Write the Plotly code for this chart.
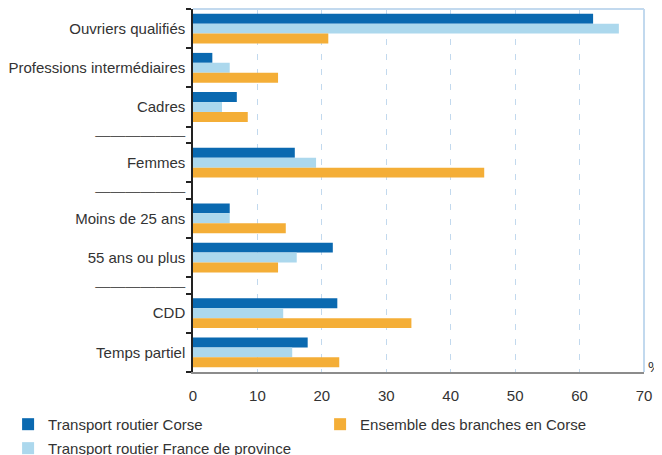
import plotly.graph_objects as go

# Donnees (en %)
categories = ['Ouvriers qualifiés', 'Professions intermédiaires', 'Cadres', None,
              'Femmes', None,
              'Moins de 25 ans', '55 ans ou plus', None,
              'CDD', 'Temps partiel']

transport_corse = [62.1, 3.0, 6.8, 15.8, 5.7, 21.7, 22.4, 17.8]
transport_province = [66.1, 5.7, 4.5, 19.1, 5.7, 16.1, 14.0, 15.4]
ensemble_corse = [21.0, 13.2, 8.5, 45.2, 14.4, 13.2, 33.9, 22.7]

series_names = ['Transport routier Corse', 'Transport routier France de province',
                'Ensemble des branches en Corse']
series_colors = ['#0a69b0', '#acd8ed', '#f4ae37']
series_legend = ['legend', 'legend2', 'legend']

x_ticks = [0, 10, 20, 30, 40, 50, 60, 70]

FONT = 'Liberation Sans, Arial, sans-serif'
SEP_LABEL = '<span style="color:#555555">——————</span>'

# positions verticales : une ligne = 1, un separateur = 0.42
SEP_H = 0.42
pos, labels, bounds = [], [], [0]
cur = 0
for cat in categories:
    h = 1 if cat else SEP_H
    pos.append(cur + h / 2)
    labels.append(cat if cat else SEP_LABEL)
    cur += h
    bounds.append(cur)
bar_pos = [p for p, c in zip(pos, categories) if c]

fig = go.Figure()
for name, vals, color, leg in zip(series_names,
                                  [transport_corse, transport_province, ensemble_corse],
                                  series_colors, series_legend):
    fig.add_trace(go.Bar(
        x=vals, y=bar_pos, orientation='h', name=name,
        marker=dict(color=color, line=dict(width=0)),
        legend=leg,
    ))

# la page html ajoute une marge de 8px autour de la figure
leg_style = dict(orientation='h', xanchor='left', yanchor='top',
                 entrywidth=267, font=dict(size=15), bgcolor='rgba(0,0,0,0)')
fig.update_layout(
    width=654, height=447,
    margin=dict(l=185, r=18, t=1, b=83, autoexpand=False),
    paper_bgcolor='white', plot_bgcolor='white',
    font=dict(family=FONT, size=15, color='#333333'),
    barmode='group', bargap=0.24, bargroupgap=0,
    legend=dict(x=-0.41, y=-0.099, **leg_style),
    legend2=dict(x=-0.41, y=-0.165, **leg_style),
    showlegend=True,
)

fig.update_xaxes(
    range=[0, 70], tickvals=x_ticks, ticks='', showline=True,
    linecolor='#8c8c8c', linewidth=2, mirror=False, automargin=False,
    showgrid=True, gridcolor='#c2d9ee', griddash='6px,9px', gridwidth=1.2,
    zeroline=False, tickfont=dict(size=15), ticklabelstandoff=9,
)
fig.update_yaxes(
    range=[cur, 0], tickvals=pos, ticktext=labels, ticks='',
    showline=True, linecolor='#222222', linewidth=1.5, automargin=False,
    showgrid=False, zeroline=False, tickfont=dict(size=15),
    ticklabelstandoff=3,
    minor=dict(tickvals=bounds, ticks='outside', ticklen=5, tickcolor='#222222',
               tickwidth=1.5, showgrid=False),
)

# bordures haut / droite en bleu clair
fig.add_shape(type='line', xref='paper', yref='paper', x0=0, x1=1, y0=1, y1=1,
              line=dict(color='#c2d9ee', width=2))
fig.add_shape(type='line', xref='paper', yref='paper', x0=1, x1=1, y0=0, y1=1,
              line=dict(color='#c2d9ee', width=2))

fig.add_annotation(text='%', xref='paper', yref='paper', x=1.024, y=0.014,
                   xanchor='center', yanchor='middle',
                   showarrow=False, font=dict(size=15))

fig.write_html('out.html')
